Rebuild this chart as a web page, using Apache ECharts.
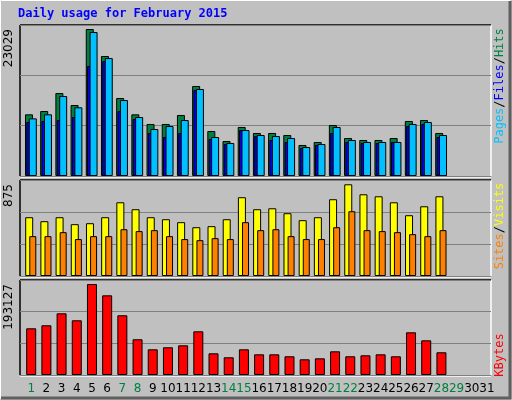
<!DOCTYPE html>
<html><head><meta charset="utf-8">
<script src="https://cdn.jsdelivr.net/npm/echarts@6/dist/echarts.min.js"></script>
<style>html,body{margin:0;padding:0;background:#c0c0c0}#c{width:512px;height:400px}</style>
</head><body><div id="c"></div>
<script>
const days = Array.from({length:31},(_,i)=>String(i+1));
const weekendDays = ['1','7','8','14','15','21','22','28','29'];
const hits  = [9660,10180,13000,11120,23029,18800,12220,9660,8150,8150,9560,14100,7050,5480,7680,6740,6740,6420,4860,5330,7990,5950,5640,5640,5950,8620,8770,6740];
const files = [8460,8620,8770,9240,17230,18020,10180,8930,6740,6110,6740,13470,5800,5010,7200,6260,5640,5330,4390,4860,6740,5330,5170,5170,5330,7830,8150,6110];
const pages = [9030,9660,12530,10760,22560,18480,11900,9240,7360,7830,8770,13630,6110,5170,7200,6420,6260,5950,4540,5010,7680,5640,5330,5330,5330,8150,8460,6420];
const visits = [559,521,559,493,502,559,701,635,559,540,512,464,474,540,749,635,644,597,531,559,730,872,777,758,701,578,663,758];
const sites  = [379,379,417,351,379,379,445,427,436,379,351,341,360,351,512,436,445,379,351,351,464,616,436,427,417,398,379,436];
const kbytes = [99100,105500,130900,116100,193127,169100,126700,75800,54500,58800,63000,92700,46000,37600,54500,43900,43900,39700,33300,35400,50300,39700,41800,43900,39700,90600,73600,48200];
const maxLabels = ['23029','875','193127'];

const chart = echarts.init(document.getElementById('c'));
const W = 471, L = 20;
const panels = [{top:25,h:151,max:23656},{top:180,h:96,max:913},{top:280,h:95,max:201600}];
const grids=[],xAxes=[],yAxes=[],series=[];
function add(p, off, data, color, bw, showX){
  const i = grids.length;
  const P = panels[p];
  grids.push({left:L+off, top:P.top, width:W, height:P.h});
  xAxes.push({type:'category', gridIndex:i, data:days, boundaryGap:true,
    axisLine:{show:false}, axisTick:{show:false}, splitLine:{show:false},
    axisLabel:{show:showX, margin:8, fontSize:12, fontFamily:'DejaVu Sans', interval:0,
      color:(v)=>weekendDays.includes(v)?'#008040':'#000'}});
  yAxes.push({type:'value', gridIndex:i, min:0, max:P.max, interval:P.max/3,
    axisLabel:{show:false}, axisLine:{show:false}, axisTick:{show:false},
    splitLine:{show: off===0, lineStyle:{color:'#808080', width:1}}});
  series.push({type:'bar', xAxisIndex:i, yAxisIndex:i, data, barWidth:bw, silent:true,
    itemStyle:{color, borderColor:'#000', borderWidth:1}, animation:false});
}
// gridline carriers (off 0, invisible data)
add(0,0,[], 'transparent', 1,false);
add(1,0,[], 'transparent', 1,false);
add(2,0,[], 'transparent', 1,false);
add(0,1.4,hits,'#008040',8,false);
add(0,2.7,files,'#0000ff',8,false);
add(0,5.2,pages,'#00c0ff',8,false);
add(1,1.6,visits,'#ffff00',8,false);
add(1,5.2,sites,'#ff8000',7,false);
add(2,3.6,kbytes,'#ff0000',10,true);

const g = [];
g.push({type:'text', left:18, top:8, style:{text:'Daily usage for February 2015', fill:'#0000ff', font:'bold 12px "DejaVu Sans Mono"'}});
panels.forEach((P,k)=>{
  g.push({type:'line', shape:{x1:L,y1:P.top,x2:L+W,y2:P.top}, style:{stroke:'#000',lineWidth:1.5}});
  g.push({type:'line', shape:{x1:L,y1:P.top,x2:L,y2:P.top+P.h}, style:{stroke:'#000',lineWidth:1.5}});
  g.push({type:'line', shape:{x1:L,y1:P.top+P.h+1,x2:L+W,y2:P.top+P.h+1}, style:{stroke:'#fff',lineWidth:1.5}});
  g.push({type:'line', shape:{x1:L+W,y1:P.top,x2:L+W,y2:P.top+P.h}, style:{stroke:'#fff',lineWidth:1.5}});
  g.push({type:'text', x:9, y:P.top+4, rotation:Math.PI/2,
    style:{text:maxLabels[k], fill:'#000', font:'12px "DejaVu Sans"', align:'right', verticalAlign:'middle'}});
});
function rightLabel(cy, parts){
  g.push({type:'text', x:500, y:cy, rotation:Math.PI/2,
    style:{text:parts.map(p=>'{'+p[1]+'|'+p[0]+'}').join(''), align:'center', verticalAlign:'middle',
      font:'12px "DejaVu Sans Mono"',
      rich:{c:{fill:'#00c0ff',font:'12px "DejaVu Sans Mono"'},b:{fill:'#0000ff',font:'12px "DejaVu Sans Mono"'},
            g:{fill:'#008040',font:'12px "DejaVu Sans Mono"'},k:{fill:'#000',font:'12px "DejaVu Sans Mono"'},
            o:{fill:'#ff8000',font:'12px "DejaVu Sans Mono"'},y:{fill:'#ffff00',font:'12px "DejaVu Sans Mono"'},
            r:{fill:'#ff0000',font:'12px "DejaVu Sans Mono"'}}}});
}
rightLabel(86,[['Pages','c'],['/','k'],['Files','b'],['/','k'],['Hits','g']]);
rightLabel(226,[['Sites','o'],['/','k'],['Visits','y']]);
rightLabel(355,[['KBytes','r']]);
// outer bevel
g.push({type:'rect', shape:{x:0.5,y:0.5,width:510,height:398}, style:{fill:'none',stroke:'#fff',lineWidth:1}});
g.push({type:'line', shape:{x1:1,y1:398,x2:511,y2:398}, style:{stroke:'#606060',lineWidth:3}});
g.push({type:'line', shape:{x1:510,y1:1,x2:510,y2:399}, style:{stroke:'#606060',lineWidth:3}});

chart.setOption({animation:false, backgroundColor:'#c0c0c0', grid:grids, xAxis:xAxes, yAxis:yAxes, series, graphic:g});
</script></body></html>
